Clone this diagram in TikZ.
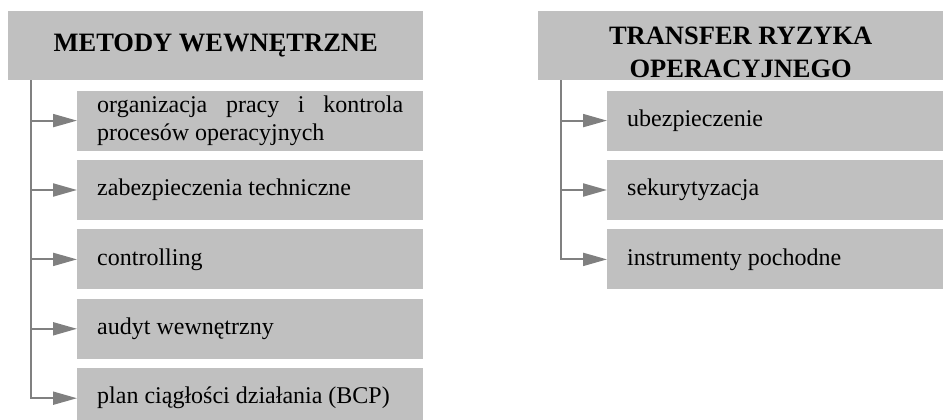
\documentclass[tikz,border=0pt]{standalone}
\usepackage{fontspec}
\setmainfont{Liberation Serif}
\usetikzlibrary{positioning, arrows.meta}

\definecolor{boxgray}{RGB}{192,192,192}
\definecolor{linegray}{RGB}{128,128,128}

\tikzset{
  head/.style={fill=boxgray, inner sep=0pt, minimum height=69pt, anchor=north west, font=\bfseries\fontsize{26.5}{30}\selectfont},
  item/.style={fill=boxgray, inner xsep=20pt, inner ysep=0pt, minimum height=60pt, text width=306pt, align=justify, font=\fontsize{24}{27.5}\selectfont},
  link/.style={draw=linegray, line width=2pt, ->}
}

\begin{document}
\begin{tikzpicture}[x=1pt, y=-1pt, >={Triangle[length=24pt, width=13pt]}, node distance=9pt]
\path[use as bounding box, clip] (0,0) rectangle (943,420);

% metody wewnetrzne
\node[head, minimum width=415pt] (metody) at (8,11) {METODY WEWNĘTRZNE};
\coordinate (mspine) at ([xshift=23pt]metody.south west);
\node[item, below right=10pt and 69pt of metody.south west] (m1) {organizacja pracy i kontrola procesów operacyjnych};
\node[item, below=of m1] (m2) {zabezpieczenia techniczne};
\node[item, below=of m2] (m3) {controlling};
\node[item, below=of m3] (m4) {audyt wewnętrzny};
\node[item, below=of m4] (m5) {plan ciągłości działania (BCP)};

\draw[link] (mspine) |- (m5.west);
\draw[link] (mspine |- m1.west) -- (m1.west);
\draw[link] (mspine |- m2.west) -- (m2.west);
\draw[link] (mspine |- m3.west) -- (m3.west);
\draw[link] (mspine |- m4.west) -- (m4.west);

% transfer ryzyka
\node[head, minimum width=405pt] (transfer) at (538,11) {};
\begin{scope}
\clip (transfer.north west) rectangle (transfer.south east);
\node[inner sep=0pt, align=center, anchor=north, font=\bfseries\fontsize{26.5}{33}\selectfont] (transfer-text) at ([yshift=-15.5pt]transfer.north) {TRANSFER RYZYKA\\OPERACYJNEGO};
\end{scope}
\coordinate (tspine) at ([xshift=23pt]transfer.south west);
\node[item, text width=296pt, below right=10pt and 69pt of transfer.south west] (t1) {ubezpieczenie};
\node[item, text width=296pt, below=of t1] (t2) {sekurytyzacja};
\node[item, text width=296pt, below=of t2] (t3) {instrumenty pochodne};

\draw[link] (tspine) |- (t3.west);
\draw[link] (tspine |- t1.west) -- (t1.west);
\draw[link] (tspine |- t2.west) -- (t2.west);
\end{tikzpicture}
\end{document}
